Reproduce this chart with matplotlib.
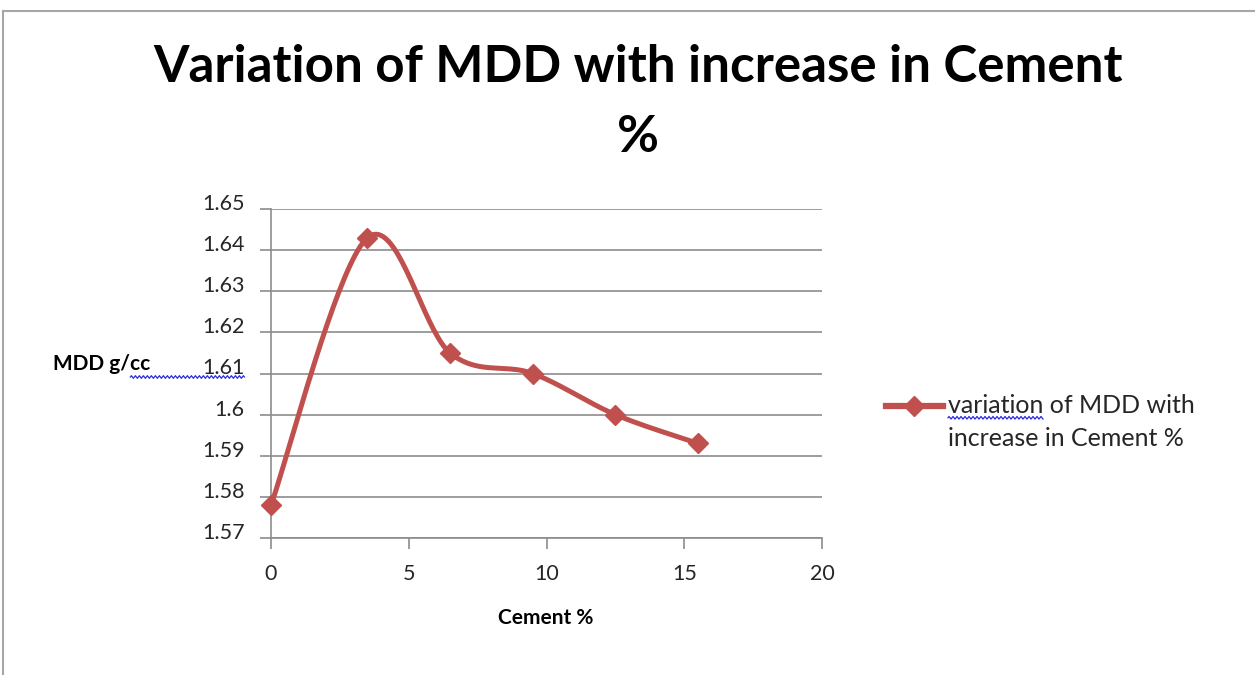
import numpy as np
import matplotlib
matplotlib.use("Agg")
from matplotlib import pyplot as plt
from matplotlib import transforms as mtransforms
from matplotlib.legend_handler import HandlerLine2D
from matplotlib.lines import Line2D
from matplotlib.patches import Rectangle

cement_pct = [0, 3.5, 6.5, 9.5, 12.5, 15.5]
mdd = [1.578, 1.643, 1.615, 1.610, 1.600, 1.593]
y_ticks = [1.57, 1.58, 1.59, 1.60, 1.61, 1.62, 1.63, 1.64, 1.65]
y_tick_labels = ["1.57", "1.58", "1.59", "1.6", "1.61", "1.62", "1.63", "1.64", "1.65"]
x_ticks = [0, 5, 10, 15, 20]
series_label = "variation of MDD with\nincrease in Cement %"

RED = "#C0504D"
GRID = "#8c8c8c"
TEXT = "#262626"
plt.rcParams["font.family"] = ["Lato", "DejaVu Sans"]


def smooth_curve(xs, ys, n=40):
    # cubic Bezier segments with control points taken from neighbouring points
    pts = np.column_stack([xs, ys]).astype(float)
    ext = np.vstack([pts[0], pts, pts[-1]])
    out = []
    t = np.linspace(0, 1, n)[:, None]
    for i in range(1, len(ext) - 2):
        p0, p1, p2, p3 = ext[i - 1], ext[i], ext[i + 1], ext[i + 2]
        c1 = p1 + (p2 - p0) / 6
        c2 = p2 - (p3 - p1) / 6
        seg = ((1 - t) ** 3) * p1 + 3 * ((1 - t) ** 2) * t * c1 + 3 * (1 - t) * t ** 2 * c2 + t ** 3 * p2
        out.append(seg if i == 1 else seg[1:])
    seg = np.vstack(out)
    return seg[:, 0], seg[:, 1]


class RaisedLineHandler(HandlerLine2D):
    # legend key drawn level with the first line of a two-line label
    def __init__(self, raise_pt, **kw):
        super().__init__(**kw)
        self.raise_pt = raise_pt

    def create_artists(self, legend, orig_handle, xdescent, ydescent, width, height, fontsize, trans):
        return super().create_artists(legend, orig_handle, xdescent, ydescent - 2 * self.raise_pt,
                                      width, height, fontsize, trans)


def text_width(fig, renderer, s, txt):
    tmp = fig.text(0, 0, s, fontproperties=txt.get_fontproperties())
    bb = tmp.get_window_extent(renderer)
    tmp.remove()
    return bb.width, bb.height


def squiggle(fig, x0, x1, y):
    xs = np.arange(x0, x1, 1.0)
    ys = y + 1.3 * np.sin((xs - x0) * np.pi / 2.0)
    fig.add_artist(Line2D(xs / fig.bbox.width, ys / fig.bbox.height, transform=fig.transFigure,
                          color="#2a2ae6", lw=0.9))


fig = plt.figure(figsize=(12.55, 6.75), dpi=100)
fig.patch.set_facecolor("white")

# outer chart frame (cut at right and bottom)
fig.patches.append(Rectangle((3 / 1255, -0.1), 1.2, 1.1 - 11 / 675, transform=fig.transFigure,
                             fill=False, edgecolor="#a6a6a6", lw=1.5))

ax = fig.add_axes([271 / 1255, 1 - 538 / 675, (822 - 271) / 1255, (538 - 209) / 675])

sx, sy = smooth_curve(cement_pct, mdd)
ax.plot(sx, sy, color=RED, lw=3.6, solid_capstyle="round", zorder=3, clip_on=False)
ax.plot(cement_pct, mdd, linestyle="none", marker="D", markersize=10, color=RED, zorder=4, clip_on=False)

ax.set_xlim(0, 20)
ax.set_ylim(1.57, 1.65)
ax.set_yticks(y_ticks)
ax.set_yticklabels(y_tick_labels)
ax.set_xticks(x_ticks)
ax.grid(axis="y", color=GRID, lw=1.2)
ax.set_axisbelow(True)
for side in ["top", "right"]:
    ax.spines[side].set_visible(False)
for side in ["left", "bottom"]:
    ax.spines[side].set_color(GRID)
    ax.spines[side].set_linewidth(1.2)
ax.tick_params(axis="y", length=8, width=1.2, color=GRID, labelsize=15.5, labelcolor=TEXT, pad=11)
ax.tick_params(axis="x", length=8, width=1.2, color=GRID, labelsize=15.5, labelcolor=TEXT, pad=11)

# value labels sit a little above their gridlines
lift = mtransforms.ScaledTranslation(0, 0.07, fig.dpi_scale_trans)
for lbl in ax.get_yticklabels():
    lbl.set_transform(lbl.get_transform() + lift)

ylab = fig.text(102 / 1255, 1 - 364 / 675, "MDD g/cc", fontsize=15, fontweight="bold", ha="center", va="center")
fig.text(546 / 1255, 1 - 618 / 675, "Cement %", fontsize=15, fontweight="bold", ha="center", va="center")

fig.text(638 / 1255, 1 - 67 / 675, "Variation of MDD with increase in Cement", fontsize=36.8,
         fontweight="bold", ha="center", va="center")
fig.text(638 / 1255, 1 - 137 / 675, "%", fontsize=36.8, fontweight="bold", ha="center", va="center")

handle = Line2D([], [], color=RED, lw=4.5, marker="D", markersize=10)
leg = fig.legend([handle], [series_label], loc="center left", bbox_to_anchor=(863 / 1255, 1 - 422 / 675),
                 frameon=False, fontsize=18, handlelength=2.3, handletextpad=0.2, labelcolor=TEXT,
                 handler_map={handle: RaisedLineHandler(raise_pt=12)})
leg_text = leg.get_texts()[0]
leg_text.set_linespacing(1.55)

# spell-check underlines under "cc 1.61" and "variation"
fig.canvas.draw()
renderer = fig.canvas.get_renderer()
yb = ylab.get_window_extent(renderer)
pre_w, _ = text_width(fig, renderer, "MDD g/", ylab)
tick_bb = ax.get_yticklabels()[4].get_window_extent(renderer)
squiggle(fig, yb.x0 + pre_w, tick_bb.x1, yb.y0 - 3)

lb = leg_text.get_window_extent(renderer)
word_w, word_h = text_width(fig, renderer, "variation", leg_text)
squiggle(fig, lb.x0, lb.x0 + word_w, lb.y1 - word_h - 1)

fig.savefig("out.png", dpi=100)
